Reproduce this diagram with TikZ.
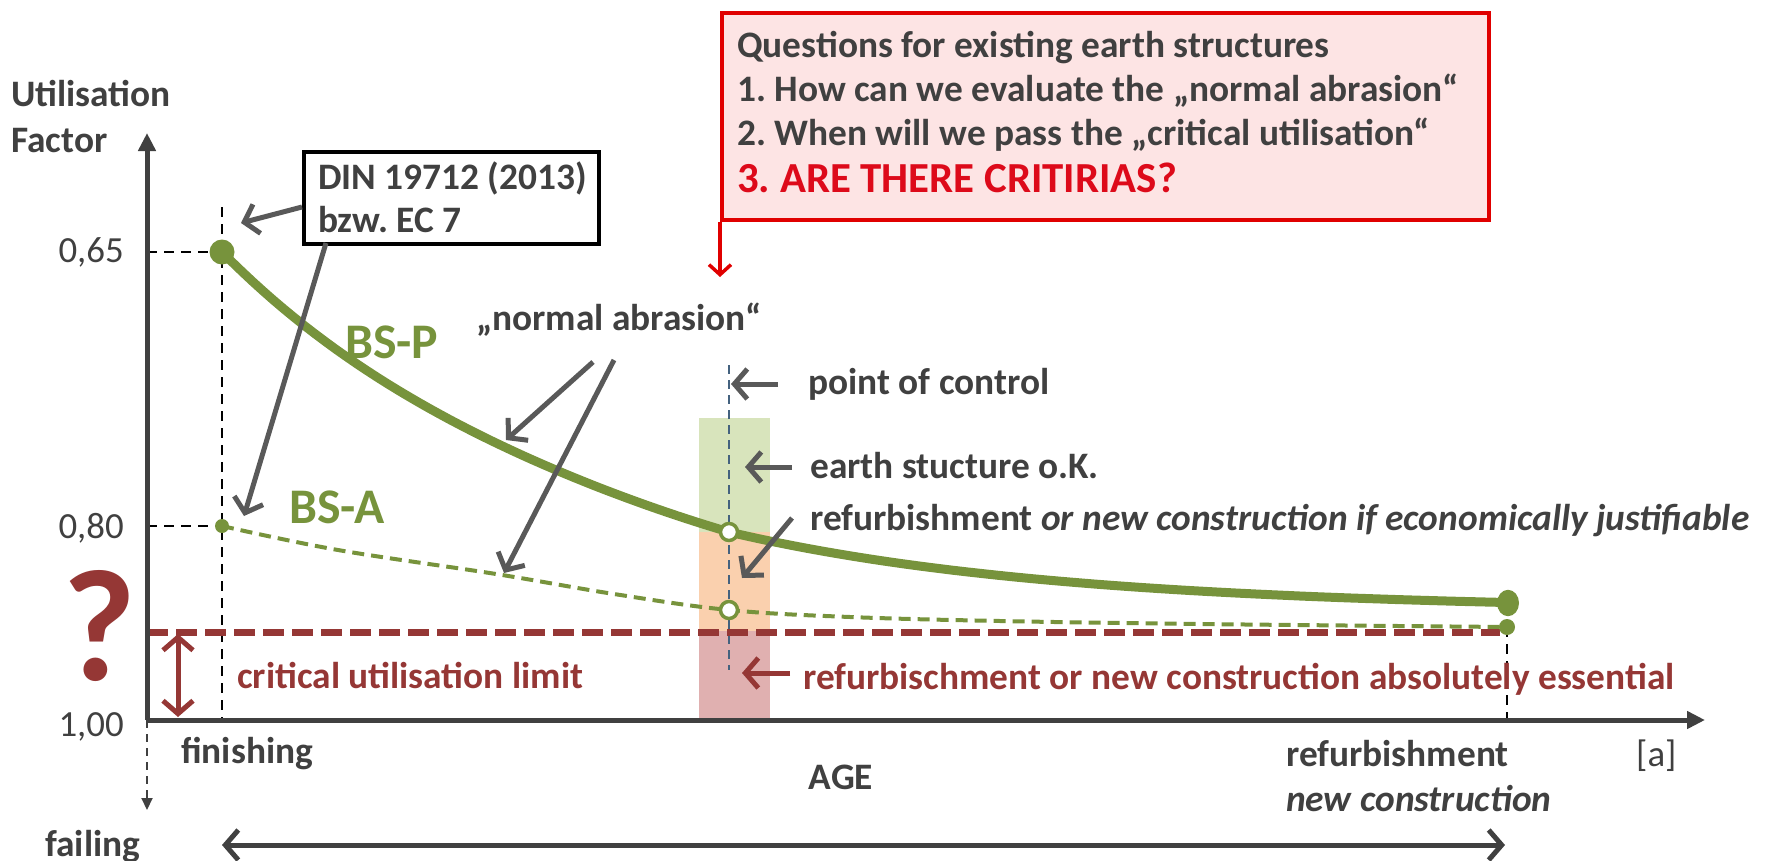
\documentclass[tikz,border=0pt]{standalone}
\usepackage{fontspec}
\setmainfont{Carlito}
\usetikzlibrary{arrows.meta}
\definecolor{tgray}{HTML}{404040}
\definecolor{agray}{HTML}{595959}
\definecolor{cgreen}{HTML}{77933C}
\definecolor{dred}{HTML}{953735}
\definecolor{qred}{HTML}{E00000}
\definecolor{qtext}{HTML}{DD0A1A}
\definecolor{qpink}{HTML}{FDE4E4}
\definecolor{rgreen}{HTML}{D8E4BC}
\definecolor{rorange}{HTML}{FAD0AE}
\definecolor{rred}{HTML}{E0B0B0}
\definecolor{cblue}{HTML}{44627F}
\frenchspacing
\begin{document}
\begin{tikzpicture}[x=1bp,y=-1bp,
  lbl/.style={font=\fontsize{37.5}{45}\selectfont\bfseries, text=tgray, inner sep=0pt},
  tick/.style={font=\fontsize{37}{44}\selectfont, text=tgray, inner sep=0pt},
  qline/.style={font=\fontsize{37.5}{44}\selectfont\bfseries, text=tgray, inner sep=0pt, anchor=base west},
  redlbl/.style={font=\fontsize{37.5}{45}\selectfont\bfseries, text=dred, inner sep=0pt, anchor=base west},
  curvelbl/.style={font=\fontsize{50}{60}\selectfont\bfseries, text=cgreen, inner sep=0pt, anchor=base west},
  grayarrow/.style={draw=agray, line width=5bp, -{Straight Barb[length=13bp,width=30bp]}},
  axisline/.style={draw=tgray, line width=5bp},
  helper/.style={draw=black, line width=2.2bp, dash pattern=on 10bp off 7bp},
  bsp/.style={draw=cgreen, line width=9bp, line cap=round, line join=round},
  bsa/.style={draw=cgreen, line width=4bp, dash pattern=on 12bp off 7bp},
  ctrlpt/.style={circle, draw=cgreen, fill=white, line width=3.5bp, minimum size=17bp, inner sep=0pt},
  dot/.style={circle, fill=cgreen, inner sep=0pt}
]
\useasboundingbox (0,0) rectangle (1765,861);

% shaded control bar
\fill[rgreen] (699,418) rectangle (770,532);
\fill[rorange] (699,532) rectangle (770,631);
\fill[rred] (699,631) rectangle (770,720);

% coordinates
\coordinate (O) at (147,720);
\coordinate (ytop) at (147,133);
\coordinate (xend) at (1705,720);
\coordinate (ydown) at (147,810);
\coordinate (p65) at (222,252);
\coordinate (p80) at (222,526);
\coordinate (a65) at (147,252);
\coordinate (a80) at (147,526);
\coordinate (fintop) at (222,207);
\coordinate (finbot) at (222,720);
\coordinate (endtop) at (1507,627);
\coordinate (endbot) at (1507,724);
\coordinate (ctop) at (729,365);
\coordinate (cbot) at (729,670);
\coordinate (lim0) at (147,632);
\coordinate (lim1) at (1500,632);
\coordinate (dl0) at (178,634);
\coordinate (dl1) at (178,717);
\coordinate (b0) at (222,845);
\coordinate (b1) at (1505,845);

% helper dashed lines
\draw[helper] (a65) -- (p65);
\draw[helper] (a80) -- (p80);
\draw[helper] (fintop) -- (finbot);
\draw[helper] (endtop) -- (endbot);
\draw[draw=cblue, line width=2bp, dash pattern=on 9bp off 6bp] (ctop) -- (cbot);

% curves
\draw[bsa] plot[smooth, tension=0.6] coordinates {(222,526) (338,550) (496,574) (614,594) (729,610) (850,617) (1000,621) (1200,624) (1507,627)};
\draw[bsp] plot[domain=222:729, samples=50] (\x,{610-358*exp(-0.003*(\x-222))-10*sin(0.35503*(\x-222))})
  -- plot[domain=729:1508, samples=50] (\x,{610-358*exp(-0.003*(\x-222))});

% critical limit
\draw[draw=dred, line width=7bp, dash pattern=on 21bp off 8bp] (lim0) -- (lim1);

% points
\node[dot, minimum size=25bp] (sP) at (p65) {};
\node[dot, minimum size=14bp] (sA) at (p80) {};
\node[dot, minimum size=22bp, yscale=1.2] (eP) at (1508,603) {};
\node[dot, minimum size=16bp] (eA) at (endtop) {};
\node[ctrlpt] (cP) at (729,532) {};
\node[ctrlpt] (cA) at (729,610) {};

% axes
\draw[axisline, -{Triangle[length=18bp,width=17bp]}] (O) -- (ytop);
\draw[axisline, -{Triangle[length=18bp,width=17bp]}] (O) -- (xend);
\draw[draw=tgray, line width=2bp, dash pattern=on 8bp off 6bp, -{Triangle[length=12bp,width=11bp]}] (O) -- (ydown);
\draw[draw=tgray, line width=5bp, {Straight Barb[length=13bp,width=30bp]}-{Straight Barb[length=13bp,width=30bp]}] (b0) -- (b1);
\draw[draw=dred, line width=5bp, {Straight Barb[length=13bp,width=30bp]}-{Straight Barb[length=13bp,width=30bp]}] (dl0) -- (dl1);

% axis texts
\node[lbl, anchor=base west] (ut) at (11,106) {Utilisation};
\node[lbl, anchor=base west] (fa) at (11,152) {Factor};
\node[tick, anchor=base east] (t65) at (124,262) {0,65};
\node[tick, anchor=base east] (t80) at (124,538) {0,80};
\node[tick, anchor=base east] (t100) at (124,736) {1,00};
\node[lbl, anchor=base west] (fin) at (181,763) {finishing};
\node[lbl, anchor=base] (age) at (841,789) {AGE};
\node[lbl, anchor=base west] (ref) at (1286,766) {refurbishment};
\node[lbl, anchor=base west] (nc) at (1286,811) {\itshape new construction};
\node[tick, anchor=base west] (unit) at (1636,766) {[a]};
\node[lbl, anchor=base west] (fail) at (45,856) {failing};

% question mark & critical limit
\node[font=\fontsize{160}{160}\selectfont\bfseries, text=dred, inner sep=0pt, text depth=0pt, anchor=base west] (qm) at (62,680) {?};
\node[redlbl] (crit) at (237,688) {critical utilisation limit};

% curve labels
\node[curvelbl] (lP) at (345,358) {BS-P};
\node[curvelbl] (lA) at (289,523) {BS-A};
\node[lbl, anchor=base west] (na) at (476,330) {„normal abrasion“};

% DIN box
\node[draw=black, fill=white, line width=4bp, minimum width=295bp, minimum height=92bp, anchor=north west, inner sep=0pt] (din) at (302,150) {};
\node[lbl, anchor=base west] (din1) at (318,189) {DIN 19712 (2013)};
\node[lbl, anchor=base west] (din2) at (318,232) {bzw. EC 7};
\coordinate (dinA) at (241,223);
\coordinate (dinB0) at (326,243);
\coordinate (dinB) at (244,516);
\draw[grayarrow] (din.west |- dinA) ++(0,-16) -- (dinA);
\draw[grayarrow] (dinB0) -- (dinB);

% normal abrasion arrows
\coordinate (na0) at (593,362);
\coordinate (na1) at (506,440);
\coordinate (nb0) at (614,360);
\coordinate (nb1) at (504,573);
\draw[grayarrow] (na0) -- (na1);
\draw[grayarrow] (nb0) -- (nb1);

% question box
\node[draw=qred, fill=qpink, line width=4bp, minimum width=767bp, minimum height=207bp, anchor=north west, inner sep=0pt] (qbox) at (720,11) {};
\node[qline] (q1) at (737,57) {Questions for existing earth structures};
\node[qline] (q2) at (737,101) {1. How can we evaluate the „normal abrasion“};
\node[qline] (q3) at (737,145) {2. When will we pass the „critical utilisation“};
\node[qline, font=\fontsize{43}{50}\selectfont\bfseries, text=qtext] (q4) at (737,192) {3. ARE THERE CRITIRIAS?};
\coordinate (qtip) at (720,277);
\draw[draw=qred, line width=3.5bp, -{Straight Barb[length=10bp,width=22bp]}] (qbox.south west) -- (qtip);

% right-hand labels
\node[lbl, anchor=base west] (pc) at (808,394) {point of control};
\node[lbl, anchor=base west] (ok) at (810,478) {earth stucture o.K.};
\node[lbl, anchor=base west] (rf) at (810,530) {refurbishment \itshape or new construction if economically justifiable};
\node[redlbl] (ess) at (803,689) {refurbischment or new construction absolutely essential};
\coordinate (pcT) at (731,384);
\coordinate (okT) at (745,467);
\coordinate (rfT) at (742,578);
\coordinate (esT) at (742,673);
\draw[grayarrow] (pc.west |- pcT) ++(-30,0) -- (pcT);
\draw[grayarrow] (792,467) -- (okT);
\draw[grayarrow] (792,518) -- (rfT);
\draw[draw=dred, line width=5bp, -{Straight Barb[length=13bp,width=30bp]}] (790,673) -- (esT);
\end{tikzpicture}
\end{document}
